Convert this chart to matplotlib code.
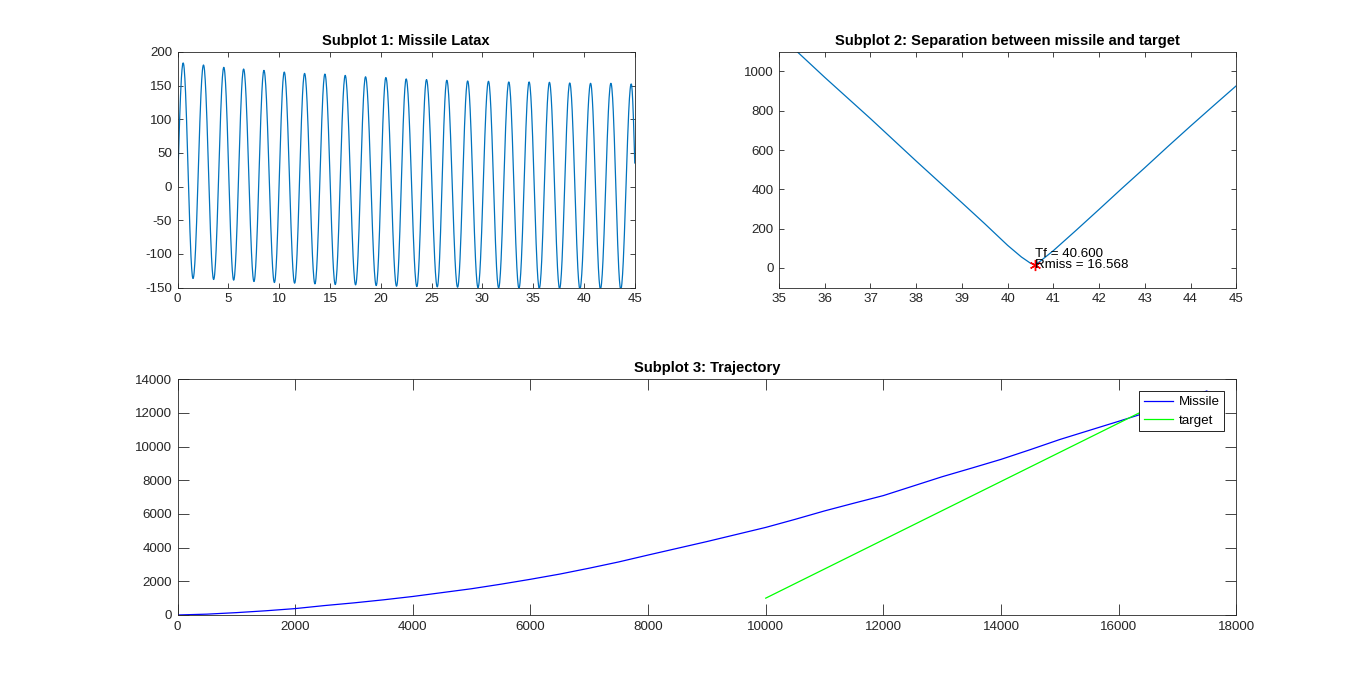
import numpy as np
import matplotlib
matplotlib.use('Agg')
import matplotlib.pyplot as plt

plt.rcParams['font.family'] = ['Liberation Sans', 'DejaVu Sans']
plt.rcParams['axes.unicode_minus'] = False

# subplot 1: latax extrema (time, value)
peak_t = [0.55, 2.55, 4.55, 6.5, 8.5, 10.5, 12.5, 14.5, 16.5, 18.5, 20.5, 22.5,
          24.5, 26.5, 28.55, 30.6, 32.6, 34.6, 36.6, 38.6, 40.65, 42.65, 44.65]
peak_v = [183.5, 180.5, 177, 174.5, 172.5, 170, 168, 167, 165, 163, 161.8, 159.8,
          158.8, 157.8, 156.8, 156.3, 155.3, 155.3, 154.8, 153.8, 153.3, 153.3, 152.3]
trough_t = [1.52, 3.55, 5.52, 7.52, 9.53, 11.52, 13.52, 15.52, 17.52, 19.55, 21.55,
            23.55, 25.56, 27.56, 29.57, 31.6, 33.6, 35.6, 37.6, 39.6, 41.62, 43.62]
trough_v = [-136.5, -138, -139, -141, -142.5, -143.5, -144.5, -145.5, -146, -147, -148,
            -148.5, -149, -149.5, -150, -150.5, -151, -151, -151.5, -152, -152, -152.5]
latax_start = (0.0, 0.0)
latax_end = (45.0, 35.0)

# subplot 2: separation
sep_t = [35.0, 35.4, 36.0, 36.5, 37.0, 37.5, 38.0, 38.5, 39.0, 39.5, 40.0, 40.3,
         40.5, 40.6, 40.7, 41.0, 41.5, 42.0, 42.5, 43.0, 43.5, 44.0, 44.5, 45.0]
sep_r = [1186, 1100, 970, 865, 760, 652, 544, 438, 332, 225, 115, 56,
         24, 16.568, 32, 88, 192, 298, 405, 510, 617, 722, 825, 927]
Tf = 40.600
Rmiss = 16.568

# subplot 3: trajectory
mis_x = [0, 500, 1000, 1500, 2000, 2500, 3000, 3500, 4000, 4500, 5000, 5500, 6000,
         6500, 7000, 7500, 8000, 8500, 9000, 9500, 10000, 10500, 11000, 11500, 12000,
         12500, 13000, 13500, 14000, 14500, 15000, 15500, 16000, 16500, 17000, 17500]
mis_y = [0, 50, 140, 250, 380, 560, 720, 900, 1100, 1330, 1560, 1830, 2120,
         2430, 2780, 3150, 3560, 3960, 4360, 4780, 5200, 5680, 6180, 6640, 7090,
         7650, 8210, 8720, 9240, 9820, 10420, 10960, 11500, 12050, 12650, 13300]
tgt_x = [10000, 16750]
tgt_y = [1000, 12690]

mblue = (0, 0.447, 0.741)
dark = (0.15, 0.15, 0.15)


def latax_curve():
    # join the read extrema with smooth half-waves
    pts = []
    for i in range(len(trough_t)):
        pts.append((peak_t[i], peak_v[i]))
        pts.append((trough_t[i], trough_v[i]))
    pts.append((peak_t[-1], peak_v[-1]))
    t_all, y_all = [], []
    # rising quarter wave from the start
    s = np.linspace(0, 1, 20)
    t0, y0 = latax_start
    t1, y1 = pts[0]
    t_all.extend(t0 + (t1 - t0) * s)
    y_all.extend(y0 + (y1 - y0) * np.sin(np.pi / 2 * s))
    for (ta, ya), (tb, yb) in zip(pts[:-1], pts[1:]):
        s = np.linspace(0, 1, 30)[1:]
        t_all.extend(ta + (tb - ta) * s)
        y_all.extend(ya + (yb - ya) * (1 - np.cos(np.pi * s)) / 2)
    ta, ya = pts[-1]
    tb, yb = latax_end
    s = np.linspace(0, 1, 15)[1:]
    t_all.extend(ta + (tb - ta) * s)
    y_all.extend(ya + (yb - ya) * (1 - np.cos(np.pi / 2 * s)))
    return np.array(t_all), np.array(y_all)


def matlab_axes(ax, ticklen):
    for sp in ax.spines.values():
        sp.set_color(dark)
        sp.set_linewidth(0.6)
    ax.tick_params(direction='in', length=ticklen, width=0.6, colors=dark,
                   top=True, right=True, labelsize=9.6, pad=4)


fig = plt.figure(figsize=(13.66, 6.91), dpi=100)

ax1 = fig.add_axes([0.13, 0.5838, 0.3347, 0.3412])
tt, yy = latax_curve()
ax1.plot(tt, yy, color=mblue, lw=0.9)
ax1.set_xlim(0, 45)
ax1.set_ylim(-150, 200)
ax1.set_xticks(np.arange(0, 46, 5))
ax1.set_yticks(np.arange(-150, 201, 50))
ax1.set_title('Subplot 1: Missile Latax', fontsize=10.6, fontweight='bold', pad=5)
matlab_axes(ax1, 3.3)

ax2 = fig.add_axes([0.5703, 0.5838, 0.3347, 0.3412])
ax2.plot(sep_t, sep_r, color=mblue, lw=0.9)
ax2.plot([Tf], [Rmiss], marker=(6, 2, 0), color='red', ms=8, mew=1.0, ls='none')
ax2.text(Tf, Rmiss + 52, 'Tf = %.3f' % Tf, fontsize=9.6, va='center', ha='left')
ax2.text(Tf, Rmiss, 'Rmiss = %.3f' % Rmiss, fontsize=9.6, va='center', ha='left')
ax2.set_xlim(35, 45)
ax2.set_ylim(-100, 1100)
ax2.set_xticks(np.arange(35, 46, 1))
ax2.set_yticks(np.arange(0, 1001, 200))
ax2.set_title('Subplot 2: Separation between missile and target', fontsize=10.6,
              fontweight='bold', pad=5)
matlab_axes(ax2, 3.3)

ax3 = fig.add_axes([0.13, 0.11, 0.775, 0.3412])
ax3.plot(mis_x, mis_y, color='blue', lw=0.9, label='Missile')
ax3.plot(tgt_x, tgt_y, color=(0, 1, 0), lw=0.9, label='target')
ax3.set_xlim(0, 18000)
ax3.set_ylim(0, 14000)
ax3.set_xticks(np.arange(0, 18001, 2000))
ax3.set_yticks(np.arange(0, 14001, 2000))
ax3.set_title('Subplot 3: Trajectory', fontsize=10.6, fontweight='bold', pad=5)
matlab_axes(ax3, 7.6)
leg = ax3.legend(loc='upper right', fontsize=9.6, fancybox=False, framealpha=1,
                 edgecolor='black', borderaxespad=0.9, handlelength=2.2,
                 borderpad=0.35, labelspacing=0.45, handletextpad=0.4)
leg.get_frame().set_linewidth(0.6)

fig.savefig('out.png', dpi=100)
